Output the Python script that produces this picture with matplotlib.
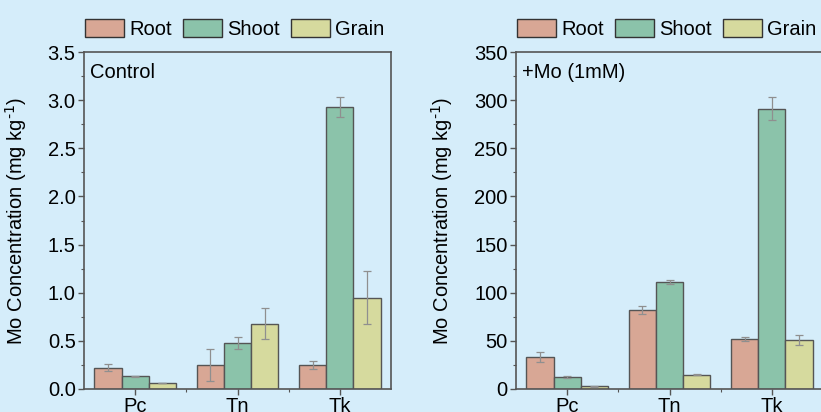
import matplotlib
matplotlib.use('Agg')
import matplotlib.pyplot as plt
from matplotlib.patches import Patch
from matplotlib.ticker import MultipleLocator, FixedLocator
import numpy as np

plt.rcParams['font.family'] = ['Liberation Sans', 'DejaVu Sans']

# data
genotypes = ['Pc', 'Tn', 'Tk']
tissues = ['Root', 'Shoot', 'Grain']

control_root = [0.22, 0.25, 0.25]
control_shoot = [0.13, 0.48, 2.93]
control_grain = [0.06, 0.68, 0.95]
control_root_err = [0.035, 0.17, 0.04]
control_shoot_err = [0.01, 0.06, 0.10]
control_grain_err = [0.0, 0.16, 0.28]

mo_root = [33.2, 81.7, 51.9]
mo_shoot = [12.1, 111.4, 291.0]
mo_grain = [2.8, 14.9, 51.2]
mo_root_err = [5.0, 4.0, 2.0]
mo_shoot_err = [1.0, 2.0, 12.0]
mo_grain_err = [0.3, 0.8, 5.0]

BG = '#d5edfa'
COLORS = ['#d8a795', '#8bc3aa', '#d6da9e']
EDGE = '#555555'
FS = 14.5

fig = plt.figure(figsize=(8.21, 4.12), dpi=100, facecolor=BG)
W, H = 821, 412


def make_axes(left_px):
    return fig.add_axes([left_px / W, (H - 389) / H, 307 / W, 337 / H])


def draw_panel(ax, series, errors, ymax, ystep, yminor, fmt, label, ylabel_x):
    ax.set_facecolor(BG)
    x = np.arange(1, len(genotypes) + 1)
    width = 0.267
    for i, (vals, errs) in enumerate(zip(series, errors)):
        ax.bar(x + (i - 1) * width, vals, width, color=COLORS[i],
               edgecolor=EDGE, linewidth=1.0, zorder=2)
        ax.errorbar(x + (i - 1) * width, vals, yerr=errs, fmt='none',
                    ecolor='#8f8f8f', elinewidth=0.9, capsize=3,
                    capthick=0.9, zorder=3)
    ax.set_xlim(0.5, 3.5)
    ax.set_ylim(0, ymax)
    ax.set_xticks(x)
    ax.set_xticklabels(genotypes)
    ax.xaxis.set_minor_locator(FixedLocator([1.5, 2.5]))
    ax.yaxis.set_major_locator(MultipleLocator(ystep))
    ax.yaxis.set_minor_locator(MultipleLocator(yminor))
    ax.yaxis.set_major_formatter(fmt)
    for s in ax.spines.values():
        s.set_color(EDGE)
        s.set_linewidth(1.2)
    ax.tick_params(axis='both', which='major', direction='out', length=4,
                   width=1.0, color=EDGE, labelsize=FS, pad=2)
    ax.tick_params(axis='both', which='minor', direction='out', length=2.5,
                   width=0.8, color=EDGE)
    ax.set_ylabel('Mo Concentration (mg kg$^{\\text{-1}}$)', fontsize=FS)
    ax.yaxis.set_label_coords(ylabel_x, 0.5)
    ax.text(0.02, 0.968, label, transform=ax.transAxes, fontsize=FS,
            ha='left', va='top')
    handles = [Patch(facecolor=c, edgecolor='#333333', linewidth=1.0, label=t)
               for c, t in zip(COLORS, tissues)]
    ax.legend(handles=handles, loc='lower left', bbox_to_anchor=(-0.038, 1.0),
              ncol=3, frameon=False, fontsize=FS, handlelength=1.94,
              handleheight=0.95, handletextpad=0.25, columnspacing=0.55,
              borderaxespad=0.55, borderpad=0.1)


ax1 = make_axes(84)
draw_panel(ax1, [control_root, control_shoot, control_grain],
           [control_root_err, control_shoot_err, control_grain_err],
           3.5, 0.5, 0.25, '{x:.1f}', 'Control', -0.18)

ax2 = make_axes(516)
draw_panel(ax2, [mo_root, mo_shoot, mo_grain],
           [mo_root_err, mo_shoot_err, mo_grain_err],
           350, 50, 25, '{x:.0f}', '+Mo (1mM)', -0.20)

fig.savefig('out.png', dpi=100, facecolor=BG)
